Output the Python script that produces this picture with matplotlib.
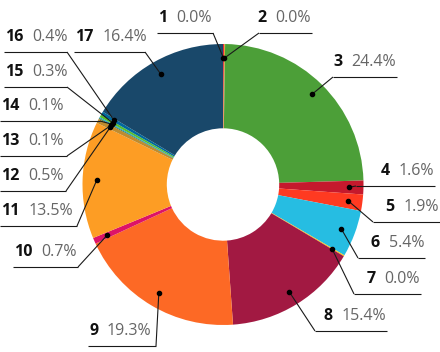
import matplotlib
matplotlib.use('Agg')
import matplotlib.pyplot as plt
import numpy as np

goals = ['1', '2', '3', '4', '5', '6', '7', '8', '9', '10', '11', '12', '13', '14', '15', '16', '17']
shares = [0.0, 0.0, 24.4, 1.6, 1.9, 5.4, 0.0, 15.4, 19.3, 0.7, 13.5, 0.5, 0.1, 0.1, 0.3, 0.4, 16.4]
colors = ['#e5243b', '#dda63a', '#4c9f38', '#c5192d', '#ff3a21', '#26bde2', '#fcc30b', '#a21942',
          '#fd6925', '#dd1367', '#fd9d24', '#bf8b2e', '#3f7e44', '#0a97d9', '#56c02b', '#00689d', '#19486a']

# label placement in image pixels (y from top): underline y, underline x range, end where the leader joins
lab_y = [33, 33, 77, 186, 222, 258, 294, 331, 346, 267, 226, 191, 156, 121, 87, 52, 52]
lab_x0 = [157, 259, 333, 356, 373, 358, 354, 315, 88, 13, 0, 0, 0, 0, 4, 4, 74]
lab_x1 = [213, 312, 397, 435, 440, 425, 421, 387, 156, 78, 77, 66, 67, 100, 67, 67, 145]
lab_side = ['R', 'L', 'L', 'L', 'L', 'L', 'L', 'L', 'R', 'R', 'R', 'R', 'R', 'R', 'R', 'R', 'R']

W, H = 440, 352
cx, cy, R = 223, 184.5, 140.5
min_share = 0.12  # 0.0% goals still get a hairline slice
fs = 11.5

fig = plt.figure(figsize=(W / 100, H / 100), dpi=100)
ax = fig.add_axes([0, 0, 1, 1])

drawn = np.maximum(np.array(shares), min_share)
wedges, _ = ax.pie(drawn, colors=colors, startangle=90, counterclock=False,
                   radius=R, center=(cx, H - cy),
                   wedgeprops=dict(width=R * 0.6, linewidth=0))
ax.set_xlim(0, W)
ax.set_ylim(0, H)
ax.set_aspect('equal')
ax.axis('off')

renderer = fig.canvas.get_renderer()
line_c = '#1a1a1a'
for i, w in enumerate(wedges):
    mid = np.deg2rad((w.theta1 + w.theta2) / 2)
    dx = cx + 0.9 * R * np.cos(mid)
    dy = (H - cy) + 0.9 * R * np.sin(mid)
    y = H - lab_y[i]
    x0, x1 = lab_x0[i], lab_x1[i]
    ex = x1 if lab_side[i] == 'R' else x0
    ax.plot([dx, ex], [dy, y], color=line_c, lw=0.8, solid_capstyle='butt')
    ax.plot([x0, x1], [y, y], color=line_c, lw=0.8, solid_capstyle='butt')
    ax.plot(dx, dy, 'o', color='black', ms=3)

    pct = f"{shares[i]:.1f}%"
    ty = y + 11
    if lab_side[i] == 'R':
        t = ax.text(x0 + 1, ty, goals[i], ha='left', va='baseline',
                    fontsize=fs, fontweight='bold', color='#111111', family='Open Sans')
        bb = t.get_window_extent(renderer)
        ax.text(bb.x1 + 9, ty, pct, ha='left', va='baseline',
                fontsize=fs, color='#666666', family='Open Sans')
    else:
        t = ax.text(x1 - 1, ty, pct, ha='right', va='baseline',
                    fontsize=fs, color='#666666', family='Open Sans')
        bb = t.get_window_extent(renderer)
        ax.text(bb.x0 - 9, ty, goals[i], ha='right', va='baseline',
                fontsize=fs, fontweight='bold', color='#111111', family='Open Sans')

fig.savefig('out.png', dpi=100)
